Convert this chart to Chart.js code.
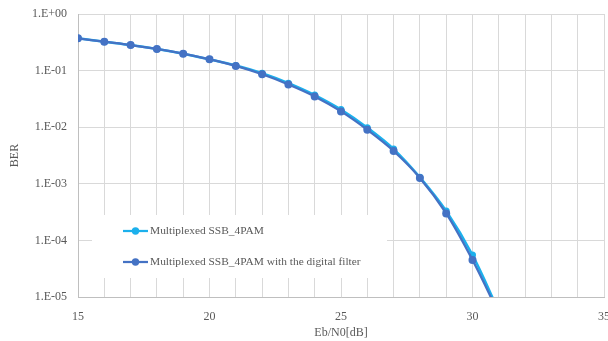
<!DOCTYPE html>
<html>
<head>
<meta charset="utf-8">
<script src="https://cdn.jsdelivr.net/npm/chart.js@4/dist/chart.umd.min.js"></script>
<style>
html,body{margin:0;padding:0;background:#fff;}
#wrap{width:608px;height:341px;position:relative;}
</style>
</head>
<body>
<div id="wrap"><canvas id="c" width="608" height="341"></canvas></div>
<script>
const ebn0 = [15,16,17,18,19,20,21,22,23,24,25,26,27,28,29,30,31];
const berSSB = [0.372,0.324,0.283,0.241,0.199,0.158,0.123,0.090,0.060,0.037,0.0205,0.0098,0.0041,0.00130,0.00033,0.000055,0.0000056];
const berFilter = [0.372,0.324,0.283,0.241,0.199,0.158,0.121,0.086,0.057,0.035,0.0190,0.0090,0.0038,0.00127,0.00030,0.000045,0.0000051];
const seriesNames = ['Multiplexed SSB_4PAM','Multiplexed SSB_4PAM with the digital filter'];
const seriesColors = ['#1cb0ec','#4472c4'];
const yTickValues = [1e-5,1e-4,1e-3,1e-2,1e-1,1];
const yTickLabels = ['1.E-05','1.E-04','1.E-03','1.E-02','1.E-01','1.E+00'];
const xTickLabels = {15:'15',20:'20',25:'25',30:'30',35:'35'};

const FONT = "'Liberation Serif','Times New Roman',serif";
const TXT = '#595959';

function pts(arr){ return ebn0.map((x,i)=>({x:x,y:arr[i]})); }
function radii(r){ return ebn0.map(x=> x<=30 ? r : 0); }

const legendPlugin = {
  id:'boxLegend',
  beforeDatasetsDraw(chart){
    const ctx = chart.ctx;
    ctx.save();
    ctx.fillStyle = '#ffffff';
    ctx.fillRect(92,215,295,63);
    ctx.restore();
  },
  afterDraw(chart){
    const ctx = chart.ctx;
    ctx.save();
    const rows = [231,262];
    rows.forEach((y,i)=>{
      ctx.strokeStyle = seriesColors[i];
      ctx.lineWidth = 2.25;
      ctx.beginPath(); ctx.moveTo(123,y); ctx.lineTo(148,y); ctx.stroke();
      ctx.fillStyle = seriesColors[i];
      ctx.beginPath(); ctx.arc(135.5,y,3.7,0,Math.PI*2); ctx.fill();
      ctx.fillStyle = TXT;
      ctx.font = '11.4px ' + FONT;
      ctx.textBaseline = 'middle';
      ctx.textAlign = 'left';
      ctx.fillText(seriesNames[i],150,y+0.5);
    });
    ctx.restore();
  }
};

new Chart(document.getElementById('c'),{
  type:'line',
  data:{
    datasets:[
      {label:seriesNames[0],data:pts(berSSB),borderColor:seriesColors[0],backgroundColor:seriesColors[0],
       borderWidth:2.5,pointRadius:radii(3.5),pointBorderWidth:0,tension:0.35,order:1},
      {label:seriesNames[1],data:pts(berFilter),borderColor:seriesColors[1],backgroundColor:seriesColors[1],
       borderWidth:2.25,pointRadius:radii(4),pointBorderWidth:0,tension:0.35,order:0}
    ]
  },
  options:{
    responsive:false,
    animation:false,
    layout:{padding:{top:14,right:4,left:0,bottom:0}},
    plugins:{legend:{display:false},tooltip:{enabled:false}},
    scales:{
      x:{
        type:'linear',min:15,max:35,
        afterFit(s){ s.height = 44; s.paddingLeft = 0; s.paddingRight = 0; },
        ticks:{stepSize:1,autoSkip:false,maxRotation:0,padding:13,color:TXT,font:{family:FONT,size:12},
          callback:(v)=> xTickLabels[v] || ''},
        grid:{color:'#d9d9d9',lineWidth:1,drawTicks:false},
        border:{color:'#bfbfbf',width:1},
        title:{display:true,text:'Eb/N0[dB]',color:TXT,font:{family:FONT,size:12},padding:{top:4,bottom:1}}
      },
      y:{
        type:'logarithmic',min:1e-5,max:1,
        afterFit(s){ s.width = 78; s.paddingTop = 0; s.paddingBottom = 0; },
        afterBuildTicks(s){ s.ticks = yTickValues.map(v=>({value:v})); },
        ticks:{padding:11,color:TXT,font:{family:FONT,size:12},
          callback:(v)=>{ const i = yTickValues.findIndex(t=>Math.abs(Math.log10(t)-Math.log10(v))<1e-6); return i>=0?yTickLabels[i]:''; }},
        grid:{color:'#d9d9d9',lineWidth:1,drawTicks:false},
        border:{color:'#bfbfbf',width:1},
        title:{display:true,text:'BER',color:TXT,font:{family:FONT,size:12},padding:{top:8,bottom:0}}
      }
    }
  },
  plugins:[legendPlugin]
});
</script>
</body>
</html>
